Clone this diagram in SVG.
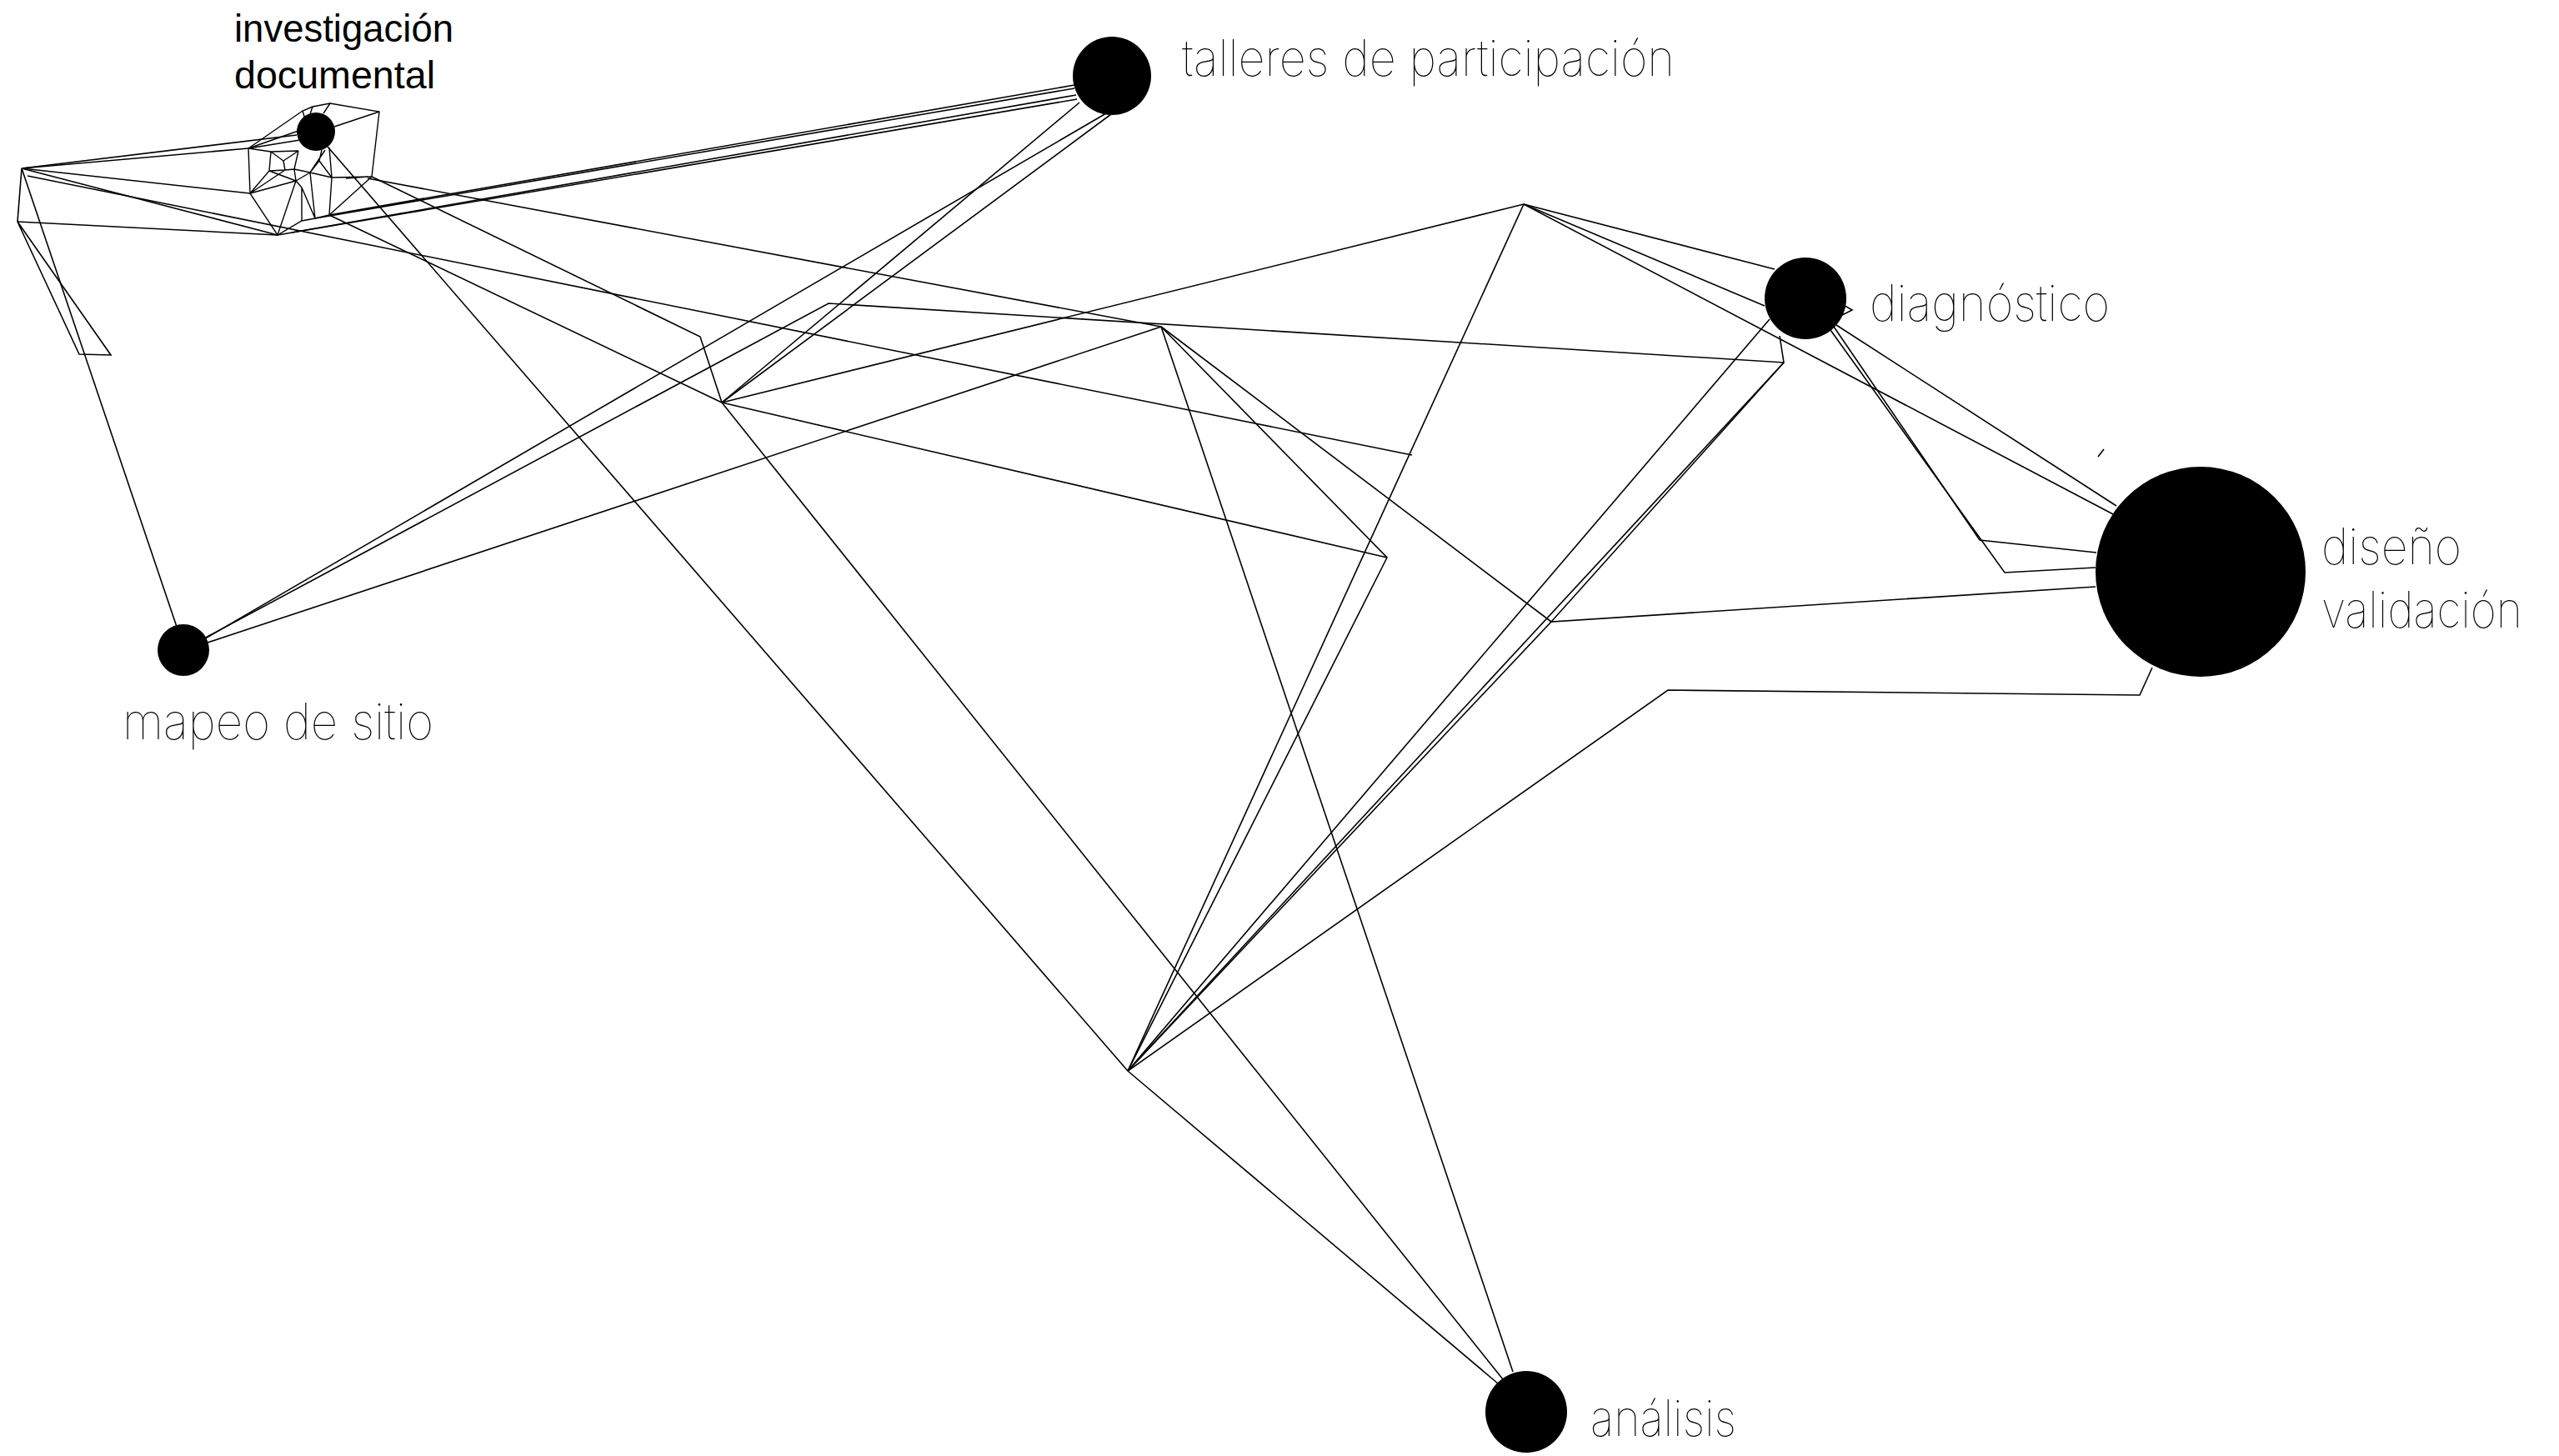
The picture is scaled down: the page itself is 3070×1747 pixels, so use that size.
<svg xmlns="http://www.w3.org/2000/svg" width="3070" height="1747" viewBox="0 0 3070 1747">
<style>
.c{fill:none;stroke:#000;stroke-width:1.6;stroke-linejoin:miter}
.m{fill:none;stroke:#000;stroke-width:1.4}
.n{fill:#000}
.lt{font-family:Inter,Lato,Roboto,"Liberation Sans",sans-serif;font-weight:100;font-size:60px;fill:#000}
.rg{font-family:"Liberation Sans",Arial,sans-serif;font-size:46px;fill:#000}
</style>
<rect width="3070" height="1747" fill="#fff"/>
<g id="connectors" class="c">
<path d="M26,202 L356,162"/>
<path d="M26,202 L298,178"/>
<path d="M26,202 L300,232"/>
<path d="M26,202 L333,282"/>
<path d="M33,211 L1694,546"/>
<path d="M26,202 L21,266"/>
<path d="M26,202 L212,752"/>
<path d="M21,266 L333,282"/>
<path d="M21,266 L95,425 L133,426 Z"/>
<path d="M395,258 L1289,102"/>
<path d="M378,262 L1289,106"/>
<path d="M350,279 L1291,114"/>
<path d="M333,282 L1292,119"/>
<path d="M393,176 L1353,1285"/>
<path d="M446,212 L840,404 L866,483"/>
<path d="M441,214 L1393,392"/>
<path d="M395,258 L866,483"/>
<path d="M1295,123 L866,483"/>
<path d="M1333,137 L866,483"/>
<path d="M1327,136 L243,768"/>
<path d="M243,767 L994,364 L2140,435 L2135,403"/>
<path d="M246,772 L1393,392"/>
<path d="M1393,392 L1664,669 L1353,1285"/>
<path d="M1393,392 L1861,746"/>
<path d="M1393,392 L1815,1646"/>
<path d="M866,483 L1828,245"/>
<path d="M866,483 L1664,669"/>
<path d="M866,483 L1803,1655"/>
<path d="M1828,245 L2129,323"/>
<path d="M1828,245 L2117,367"/>
<path d="M1828,245 L2537,618"/>
<path d="M1828,245 L1353,1285"/>
<path d="M2140,435 L1353,1285"/>
<path d="M2140,435 L1861,746 L2514,704"/>
<path d="M2123,383 L1353,1285"/>
<path d="M1861,746 L1353,1285"/>
<path d="M1353,1285 L2001,828 L2567,834 L2582,801"/>
<path d="M1353,1285 L1797,1660"/>
<path d="M2203,390 L2539,607"/>
<path d="M2200,392 L2375,648 L2515,663"/>
<path d="M2196,396 L2405,687 L2514,681"/>
<path d="M2210,365 L2222,372 L2210,378"/>
<path d="M2517,548 L2524,539"/>
<g class="m">
<path d="M298,178 L363,133 L375,128 L396,124 L455,134 L446,212 L395,258 L378,262 L362,265 L333,282 L300,232 Z"/>
<path d="M298,178 L360,168 M298,178 L358,157 M363,133 L368,150 M375,128 L372,137 M396,124 L388,136 M401,152 L455,134"/>
<path d="M298,178 L325,182 L358,181 M325,182 L323,205 L300,232 M325,182 L340,193 L358,181 M340,193 L342,204 L323,205 M342,204 L353,203 L358,181 M353,203 L372,207 L383,193 L386,180 M372,207 L398,213 L446,212 M398,213 L395,258 M372,207 L378,262 M355,217 L300,232 M355,217 L353,203 M355,217 L372,207 M362,225 L355,217 M362,225 L378,262 M362,225 L362,265 M323,205 L355,217 M383,193 L398,213 M415,214 L441,212 M395,177 L398,213 M390,180 L372,207 M333,282 L355,217 M300,232 L342,204"/>
</g>
</g>
<g id="node-investigacion">
<circle class="n" cx="379" cy="158" r="23"/>
<text class="rg" x="281" y="50" textLength="263" lengthAdjust="spacingAndGlyphs">investigación</text>
<text class="rg" x="281" y="106" textLength="241" lengthAdjust="spacingAndGlyphs">documental</text>
</g>
<g id="node-talleres">
<circle class="n" cx="1334" cy="91" r="47"/>
<text class="lt" x="1418" y="91" textLength="591" lengthAdjust="spacingAndGlyphs">talleres de participación</text>
</g>
<g id="node-diagnostico">
<circle class="n" cx="2166" cy="358" r="49"/>
<text class="lt" x="2243" y="385" textLength="288" lengthAdjust="spacingAndGlyphs">diagnóstico</text>
</g>
<g id="node-diseno">
<circle class="n" cx="2640" cy="686" r="126"/>
<text class="lt" x="2785" y="677" textLength="168" lengthAdjust="spacingAndGlyphs">diseño</text>
<text class="lt" x="2785" y="753" textLength="241" lengthAdjust="spacingAndGlyphs">validación</text>
</g>
<g id="node-mapeo">
<circle class="n" cx="220" cy="780" r="31"/>
<text class="lt" x="147" y="887" textLength="373" lengthAdjust="spacingAndGlyphs">mapeo de sitio</text>
</g>
<g id="node-analisis">
<circle class="n" cx="1831" cy="1694" r="49"/>
<text class="lt" x="1908" y="1723" textLength="175" lengthAdjust="spacingAndGlyphs">análisis</text>
</g>
</svg>
